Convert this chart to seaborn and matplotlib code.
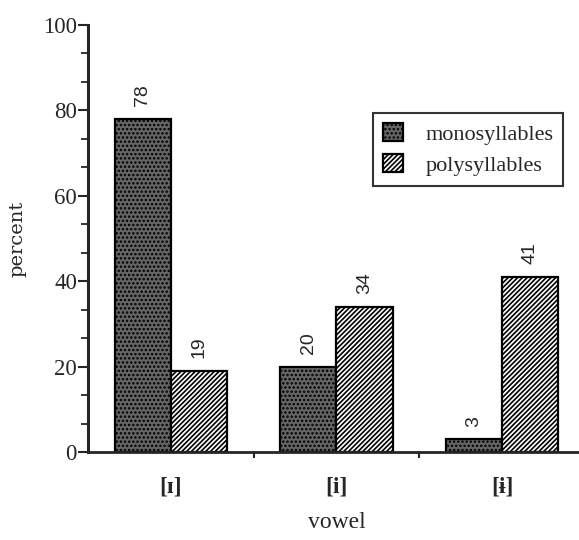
import matplotlib
matplotlib.use("Agg")
import matplotlib.pyplot as plt
from matplotlib.ticker import MultipleLocator, FixedLocator
import seaborn as sns
import pandas as pd

# values
vowels = ["[ɪ]", "[i]", "[ɨ]"]
groups = ["monosyllables", "polysyllables"]
mono = [78, 20, 3]
poly = [19, 34, 41]

df = pd.DataFrame({
    "vowel": vowels * 2,
    "group": [groups[0]] * 3 + [groups[1]] * 3,
    "percent": mono + poly,
})

sns.set_style("ticks")
plt.rcParams["font.family"] = ["Liberation Serif", "DejaVu Serif"]
plt.rcParams["hatch.linewidth"] = 1.2
plt.rcParams["hatch.color"] = "black"

fig = plt.figure(figsize=(5.79, 5.40), dpi=100)
ax = fig.add_axes([88 / 579, 88 / 540, 497 / 579, 427 / 540])

sns.barplot(data=df, x="vowel", y="percent", hue="group", order=vowels,
            hue_order=groups, width=0.68, ax=ax, legend=True,
            palette=["#666666", "white"], edgecolor="black", linewidth=1.6,
            saturation=1)

hatches = ["....", "///////"]
for cont, h in zip(ax.containers, hatches):
    for p in cont:
        p.set_hatch(h)
    ax.bar_label(cont, padding=9, rotation=90, fontsize=14,
                 family=["Liberation Sans", "DejaVu Sans"])

ax.set_xlim(-0.5, 2.5)
ax.set_ylim(0, 100)
ax.yaxis.set_major_locator(MultipleLocator(20))
ax.yaxis.set_minor_locator(MultipleLocator(20 / 3))
ax.xaxis.set_major_locator(FixedLocator([0, 1, 2]))
ax.xaxis.set_minor_locator(FixedLocator([0.5, 1.5]))
ax.tick_params(axis="x", which="major", length=0, pad=18, labelsize=17)
ax.tick_params(axis="x", which="minor", length=4, width=1.5, direction="out")
ax.tick_params(axis="y", which="major", length=7, width=1.5, labelsize=16.5, pad=1)
ax.tick_params(axis="y", which="minor", length=5, width=1.3)
for lab in ax.get_xticklabels():
    lab.set_fontweight("bold")

sns.despine(ax=ax, top=True, right=True)
ax.spines["left"].set_linewidth(2.2)
ax.spines["bottom"].set_linewidth(2.0)

ax.set_xlabel("vowel", fontsize=17, labelpad=10)
ax.set_ylabel("percent", fontsize=14, labelpad=12, family="DejaVu Serif")

leg = ax.legend(loc="upper left", bbox_to_anchor=(285 / 497, (452 - 113) / 427),
                fontsize=16, frameon=True, fancybox=False, edgecolor="black",
                handlelength=0.9, handleheight=0.9, handletextpad=1.0,
                borderpad=0.45, labelspacing=0.4, borderaxespad=0)
leg.get_frame().set_linewidth(1.5)
for handle, h in zip(leg.legend_handles, hatches):
    handle.set_hatch(h)
    handle.set_edgecolor("black")

fig.savefig("out.png", dpi=100)
